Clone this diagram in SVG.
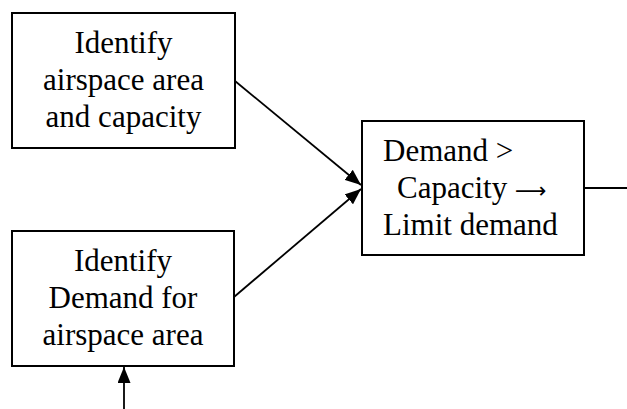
<svg xmlns="http://www.w3.org/2000/svg" width="627" height="409" viewBox="0 0 627 409">
<style>
.box{fill:#fff;stroke:#000;stroke-width:2}
.t{font-family:"Liberation Serif","Times New Roman",serif;font-size:31px;fill:#000}
.c{text-anchor:middle}
.ar{font-family:"DejaVu Sans",sans-serif;font-size:22px}
.ln{stroke:#000;stroke-width:1.8;fill:none}
</style>
<defs>
<marker id="ah2" viewBox="0 0 16 13" refX="16" refY="6.5" markerWidth="16" markerHeight="13" markerUnits="userSpaceOnUse" orient="auto">
<path d="M0,0 L16,6.5 L0,13 z" fill="#000"/>
</marker>
</defs>
<rect width="627" height="409" fill="#fff"/>
<g id="connectors">
<line class="ln" x1="235" y1="81" x2="361" y2="185" marker-end="url(#ah2)"/>
<line class="ln" x1="234" y1="297" x2="361" y2="189" marker-end="url(#ah2)"/>
<line class="ln" x1="124" y1="409" x2="124" y2="367" marker-end="url(#ah2)"/>
<line class="ln" x1="584" y1="188" x2="627" y2="188"/>
</g>
<g id="node-capacity">
<rect class="box" x="12" y="13" width="223" height="135"/>
<text class="t c" x="123.5" y="53">Identify</text>
<text class="t c" x="123.5" y="90">airspace area</text>
<text class="t c" x="123.5" y="127">and capacity</text>
</g>
<g id="node-demand">
<rect class="box" x="12" y="231" width="222" height="135"/>
<text class="t c" x="123" y="271">Identify</text>
<text class="t c" x="123" y="308">Demand for</text>
<text class="t c" x="123" y="345">airspace area</text>
</g>
<g id="node-limit">
<rect class="box" x="362" y="121" width="222" height="134"/>
<text class="t" x="383" y="161">Demand &gt;</text>
<text class="t" x="397" y="198">Capacity <tspan class="ar">⟶</tspan></text>
<text class="t" x="383" y="235">Limit demand</text>
</g>
</svg>
